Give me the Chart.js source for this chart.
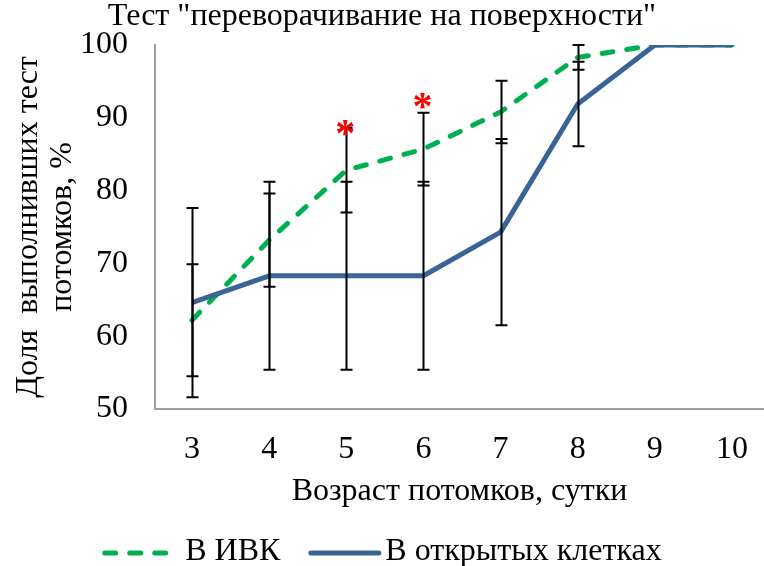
<!DOCTYPE html>
<html>
<head>
<meta charset="utf-8">
<script src="https://cdn.jsdelivr.net/npm/chart.js@4.4.1/dist/chart.umd.min.js"></script>
<style>
  html, body { margin: 0; padding: 0; background: #fff; }
  #wrap { width: 764px; height: 566px; }
</style>
</head>
<body>
<div id="wrap"><canvas id="c" width="764" height="566"></canvas></div>
<script>
// Age of offspring, days
const days = [3, 4, 5, 6, 7, 8, 9, 10];
const yTicks = [50, 60, 70, 80, 90, 100];

// Share of offspring that passed the righting test, %
const ivkValues  = [62.2, 73.2, 82.8, 85.7, 90.8, 98.3, 100, 100];
const ivkErrors  = [7.7, 6.4, 5.8, 5.0, 4.3, 1.7, 0, 0];
const openValues = [64.6, 68.3, 68.3, 68.3, 74.3, 91.9, 100, 100];
const openErrors = [13.0, 12.9, 12.9, 12.9, 12.8, 5.8, 0, 0];

// Significance marks (level in % where the asterisk sits), null = no mark
const sigMarks = [null, null, 88.6, 92.3, null, null, null, null];

const seriesNames = ['В ИВК', 'В открытых клетках'];

const GREEN = '#00B050';
const BLUE = '#3B6496';
const DASH = [11, 14];
const FONT = "'Liberation Serif', 'Times New Roman', serif";

const toPoints = vals => days.map((d, i) => ({ x: d, y: vals[i] }));

// Black error bars with caps for both series, plus red significance asterisks
const errorBars = {
  id: 'errorBars',
  afterDatasetsDraw(chart) {
    const { ctx, scales: { x, y } } = chart;
    const groups = [[ivkValues, ivkErrors], [openValues, openErrors]];
    ctx.save();
    ctx.strokeStyle = '#000';
    ctx.lineWidth = 2;
    ctx.setLineDash([]);
    groups.forEach(([vals, errs]) => {
      days.forEach((d, i) => {
        if (!errs[i]) return;
        const px = Math.round(x.getPixelForValue(d)) + 0.5;
        const top = y.getPixelForValue(Math.min(vals[i] + errs[i], 100));
        const bot = y.getPixelForValue(vals[i] - errs[i]);
        ctx.beginPath();
        ctx.moveTo(px, top); ctx.lineTo(px, bot);
        ctx.moveTo(px - 6, top); ctx.lineTo(px + 6, top);
        ctx.moveTo(px - 6, bot); ctx.lineTo(px + 6, bot);
        ctx.stroke();
      });
    });
    ctx.fillStyle = '#FF0000';
    ctx.font = 'bold 40px ' + FONT;
    ctx.textAlign = 'left';
    ctx.textBaseline = 'alphabetic';
    const m = ctx.measureText('*');
    days.forEach((d, i) => {
      if (sigMarks[i] == null) return;
      const cx = x.getPixelForValue(d);
      const cy = y.getPixelForValue(sigMarks[i]);
      const bx = cx - (m.actualBoundingBoxRight - m.actualBoundingBoxLeft) / 2 + m.actualBoundingBoxLeft;
      const by = cy + (m.actualBoundingBoxAscent - m.actualBoundingBoxDescent) / 2;
      ctx.fillText('*', bx, by);
    });
    ctx.restore();
  }
};

// Legend row under the axis title: line sample followed by series name
const lineLegend = {
  id: 'lineLegend',
  afterDraw(chart) {
    const { ctx, width } = chart;
    const items = [
      { text: seriesNames[0], color: GREEN, dash: DASH, sample: 64, gap: 14 },
      { text: seriesNames[1], color: BLUE, dash: [], sample: 68, gap: 4 }
    ];
    const itemGap = 28;
    ctx.save();
    ctx.font = '32px ' + FONT;
    const widths = items.map(it => ctx.measureText(it.text).width);
    let total = itemGap * (items.length - 1);
    items.forEach((it, i) => { total += it.sample + 5 + it.gap + widths[i]; });
    let xPos = (width - total) / 2;
    const lineY = 553;
    items.forEach((it, i) => {
      ctx.strokeStyle = it.color;
      ctx.lineWidth = 5;
      ctx.lineCap = 'round';
      ctx.setLineDash(it.dash);
      ctx.beginPath();
      ctx.moveTo(xPos + 2.5, lineY);
      ctx.lineTo(xPos + 2.5 + it.sample, lineY);
      ctx.stroke();
      ctx.setLineDash([]);
      xPos += it.sample + 5 + it.gap;
      ctx.fillStyle = '#000';
      ctx.textAlign = 'left';
      ctx.textBaseline = 'middle';
      ctx.fillText(it.text, xPos, lineY - 1.5);
      xPos += widths[i] + itemGap;
    });
    ctx.restore();
  }
};

new Chart(document.getElementById('c'), {
  type: 'line',
  data: {
    datasets: [
      {
        label: seriesNames[0],
        data: toPoints(ivkValues),
        borderColor: GREEN,
        backgroundColor: GREEN,
        borderWidth: 5,
        borderDash: DASH,
        borderCapStyle: 'round',
        borderJoinStyle: 'round',
        pointRadius: 0,
        tension: 0,
        order: 1
      },
      {
        label: seriesNames[1],
        data: toPoints(openValues),
        borderColor: BLUE,
        backgroundColor: BLUE,
        borderWidth: 5,
        borderCapStyle: 'butt',
        borderJoinStyle: 'round',
        pointRadius: 0,
        tension: 0,
        order: 0
      }
    ]
  },
  options: {
    responsive: false,
    animation: false,
    devicePixelRatio: 1,
    layout: { padding: { left: 0, right: 0, top: 0, bottom: 52 } },
    scales: {
      x: {
        type: 'linear',
        min: 2.52,
        max: 10.415,
        afterBuildTicks(scale) { scale.ticks = days.map(v => ({ value: v })); },
        afterFit(scale) { scale.height = 105; scale.paddingLeft = 0; scale.paddingRight = 0; },
        grid: { display: false, drawTicks: false },
        border: { display: true, color: '#A0A0A0', width: 2 },
        ticks: { color: '#000', font: { family: FONT, size: 32 }, padding: 21, maxRotation: 0, autoSkip: false },
        title: {
          display: true,
          text: 'Возраст потомков, сутки',
          color: '#000',
          font: { family: FONT, size: 32 },
          padding: { top: 0, bottom: 3 }
        }
      },
      y: {
        min: 50,
        max: 100,
        afterBuildTicks(scale) { scale.ticks = yTicks.map(v => ({ value: v })); },
        afterFit(scale) { scale.width = 155; scale.paddingTop = 0; scale.paddingBottom = 0; },
        grid: { display: false, drawTicks: false },
        border: { display: true, color: '#A0A0A0', width: 2 },
        ticks: { color: '#000', font: { family: FONT, size: 32 }, padding: 27 },
        title: {
          display: true,
          text: ['Доля  выполнивших тест', 'потомков, %'],
          color: '#000',
          font: { family: FONT, size: 32, lineHeight: 1.0625 },
          padding: { top: 12, bottom: 0 }
        }
      }
    },
    plugins: {
      title: {
        display: true,
        text: 'Тест "переворачивание на поверхности"',
        color: '#000',
        font: { family: FONT, size: 32, weight: 'normal', lineHeight: 1 },
        padding: { top: 1, bottom: 12 }
      },
      legend: { display: false },
      tooltip: { enabled: false }
    }
  },
  plugins: [errorBars, lineLegend]
});
</script>
</body>
</html>
